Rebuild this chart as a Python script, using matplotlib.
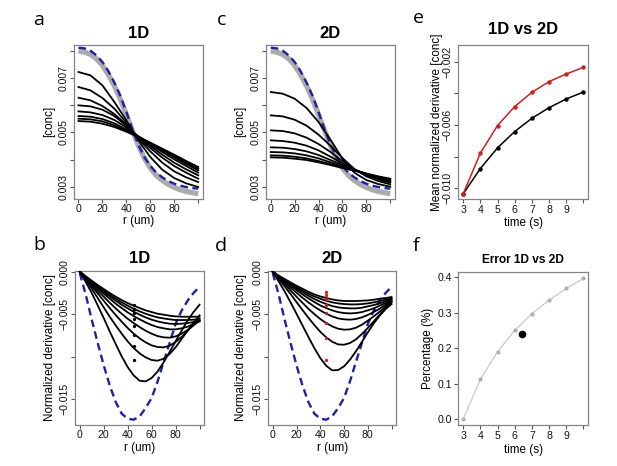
import matplotlib
matplotlib.use("Agg")
import matplotlib.pyplot as plt
import numpy as np

plt.rcParams['font.family'] = ['Liberation Sans', 'DejaVu Sans']

# ---------------- data ----------------
r_fine = [0, 5, 10, 15, 20, 25, 30, 35, 40, 45, 50, 55, 60, 65, 70, 75, 80, 85, 90, 95, 100]
r_coarse = [0, 10, 20, 30, 40, 50, 60, 70, 80, 90, 100]
times = [3, 4, 5, 6, 7, 8, 9, 10]

# concentration profiles (units of 1e-3)
conc_initial = [8.123, 8.098, 8.012, 7.840, 7.595, 7.251, 6.833, 6.342, 5.752, 5.113, 4.548,
                4.093, 3.762, 3.516, 3.344, 3.209, 3.110, 3.037, 2.988, 2.951, 2.926]
conc_reference = [8.000, 7.963, 7.877, 7.717, 7.472, 7.128, 6.710, 6.219, 5.654, 5.076, 4.523,
                  4.057, 3.688, 3.418, 3.233, 3.086, 2.975, 2.889, 2.828, 2.779, 2.742]

conc_1d_t3 = [7.226, 7.103, 6.735, 6.120, 5.445, 4.708, 4.093, 3.627, 3.319, 3.123, 2.988]
conc_1d_t4 = [6.673, 6.550, 6.268, 5.875, 5.359, 4.769, 4.302, 3.885, 3.565, 3.344, 3.172]
conc_1d_t5 = [6.280, 6.182, 5.973, 5.678, 5.285, 4.806, 4.425, 4.069, 3.762, 3.516, 3.295]
conc_1d_t6 = [5.998, 5.961, 5.838, 5.604, 5.248, 4.830, 4.499, 4.179, 3.885, 3.639, 3.418]
conc_1d_t7 = [5.776, 5.739, 5.641, 5.457, 5.187, 4.855, 4.560, 4.278, 4.007, 3.762, 3.516]
conc_1d_t8 = [5.604, 5.580, 5.494, 5.334, 5.113, 4.855, 4.597, 4.339, 4.081, 3.835, 3.602]
conc_1d_t9 = [5.506, 5.482, 5.408, 5.260, 5.064, 4.843, 4.609, 4.376, 4.130, 3.897, 3.664]
conc_1d_t10 = [5.420, 5.396, 5.322, 5.199, 5.027, 4.830, 4.622, 4.401, 4.179, 3.946, 3.725]

conc_2d_t3 = [6.489, 6.428, 6.243, 5.899, 5.383, 4.732, 4.032, 3.516, 3.246, 3.098, 3.000]
conc_2d_t4 = [5.629, 5.592, 5.469, 5.248, 4.916, 4.511, 4.057, 3.651, 3.381, 3.209, 3.086]
conc_2d_t5 = [5.076, 5.052, 4.966, 4.806, 4.573, 4.278, 3.946, 3.639, 3.430, 3.270, 3.147]
conc_2d_t6 = [4.708, 4.683, 4.622, 4.511, 4.339, 4.106, 3.860, 3.639, 3.455, 3.307, 3.184]
conc_2d_t7 = [4.450, 4.437, 4.388, 4.302, 4.167, 3.983, 3.798, 3.627, 3.467, 3.332, 3.221]
conc_2d_t8 = [4.278, 4.265, 4.228, 4.155, 4.044, 3.897, 3.749, 3.614, 3.479, 3.356, 3.246]
conc_2d_t9 = [4.155, 4.143, 4.106, 4.044, 3.946, 3.835, 3.713, 3.602, 3.479, 3.369, 3.270]
conc_2d_t10 = [4.081, 4.069, 4.032, 3.983, 3.897, 3.798, 3.688, 3.590, 3.479, 3.381, 3.295]

# normalized derivatives (units of 1e-3)
deriv_initial = [-0.16, -2.71, -5.65, -8.40, -11.03, -13.39, -15.35, -16.72, -17.31, -17.43, -17.04,
                 -16.06, -14.88, -12.92, -10.64, -8.40, -6.16, -4.59, -3.42, -2.51, -1.77]

deriv_1d_t3 = [0, -1.22, -2.51, -3.97, -5.46, -7.03, -8.52, -9.97, -11.23, -12.21, -12.84,
               -12.92, -12.52, -11.74, -10.68, -9.46, -8.21, -6.95, -5.77, -4.75, -3.89]
deriv_1d_t4 = [0, -0.98, -2.00, -3.10, -4.20, -5.30, -6.32, -7.30, -8.21, -8.99, -9.62,
               -10.09, -10.40, -10.48, -10.25, -9.70, -8.91, -7.93, -6.95, -6.01, -5.14]
deriv_1d_t5 = [0, -0.86, -1.69, -2.55, -3.42, -4.28, -5.10, -5.89, -6.63, -7.30, -7.85,
               -8.32, -8.68, -8.87, -8.91, -8.72, -8.28, -7.69, -6.99, -6.24, -5.54]
deriv_1d_t6 = [0, -0.79, -1.49, -2.24, -2.94, -3.65, -4.32, -4.95, -5.54, -6.05, -6.52,
               -6.95, -7.30, -7.58, -7.73, -7.77, -7.62, -7.30, -6.87, -6.32, -5.77]
deriv_1d_t7 = [0, -0.71, -1.33, -1.96, -2.59, -3.18, -3.77, -4.28, -4.79, -5.22, -5.61,
               -5.97, -6.28, -6.52, -6.67, -6.79, -6.79, -6.67, -6.48, -6.16, -5.85]
deriv_1d_t8 = [0, -0.63, -1.22, -1.81, -2.36, -2.91, -3.42, -3.89, -4.32, -4.71, -5.06,
               -5.38, -5.65, -5.85, -6.01, -6.12, -6.16, -6.12, -6.05, -5.93, -5.77]
deriv_1d_t9 = [0, -0.59, -1.14, -1.69, -2.20, -2.71, -3.18, -3.61, -4.00, -4.36, -4.67,
               -4.95, -5.18, -5.38, -5.50, -5.61, -5.69, -5.69, -5.69, -5.65, -5.61]
deriv_1d_t10 = [0, -0.55, -1.06, -1.57, -2.04, -2.51, -2.94, -3.34, -3.69, -4.00, -4.28,
                -4.55, -4.75, -4.95, -5.06, -5.18, -5.26, -5.30, -5.30, -5.30, -5.30]

deriv_2d_t3 = [0, -1.14, -2.32, -3.61, -4.95, -6.32, -7.69, -8.99, -10.17, -11.07, -11.62,
               -11.58, -11.15, -10.36, -9.38, -8.28, -7.15, -6.09, -5.18, -4.40, -3.81]
deriv_2d_t4 = [0, -0.86, -1.73, -2.63, -3.57, -4.51, -5.42, -6.28, -7.07, -7.73, -8.24,
               -8.56, -8.60, -8.40, -7.97, -7.34, -6.63, -5.85, -5.06, -4.28, -3.57]
deriv_2d_t5 = [0, -0.75, -1.45, -2.20, -2.94, -3.65, -4.36, -4.99, -5.57, -6.05, -6.44,
               -6.71, -6.83, -6.79, -6.60, -6.24, -5.77, -5.26, -4.71, -4.12, -3.57]
deriv_2d_t6 = [0, -0.67, -1.26, -1.88, -2.47, -3.06, -3.61, -4.12, -4.55, -4.95, -5.26,
               -5.50, -5.61, -5.65, -5.57, -5.38, -5.10, -4.75, -4.36, -3.89, -3.45]
deriv_2d_t7 = [0, -0.59, -1.10, -1.65, -2.16, -2.67, -3.14, -3.57, -3.97, -4.28, -4.55,
               -4.75, -4.87, -4.91, -4.87, -4.75, -4.55, -4.32, -4.00, -3.69, -3.34]
deriv_2d_t8 = [0, -0.55, -1.02, -1.49, -1.96, -2.39, -2.83, -3.22, -3.53, -3.81, -4.04,
               -4.20, -4.28, -4.32, -4.32, -4.24, -4.08, -3.93, -3.73, -3.49, -3.26]
deriv_2d_t9 = [0, -0.51, -0.94, -1.37, -1.81, -2.20, -2.59, -2.91, -3.18, -3.42, -3.61,
               -3.73, -3.81, -3.85, -3.85, -3.81, -3.73, -3.61, -3.45, -3.30, -3.14]
deriv_2d_t10 = [0, -0.47, -0.86, -1.26, -1.65, -2.00, -2.36, -2.67, -2.91, -3.10, -3.26,
                -3.38, -3.45, -3.45, -3.45, -3.42, -3.38, -3.30, -3.18, -3.10, -2.98]

# mean normalized derivative per time (units of 1e-3)
mean_deriv_1d = [-10.36, -8.76, -7.45, -6.42, -5.58, -4.91, -4.36, -3.92]
mean_deriv_2d = [-10.36, -7.79, -6.04, -4.84, -3.94, -3.26, -2.78, -2.36]
dot_r = 45

# error 1D vs 2D
error_pct = [0.0, 0.112, 0.190, 0.250, 0.297, 0.335, 0.368, 0.396]
error_mean_t = 6.45
error_mean_v = 0.241

conc_1d = [conc_1d_t3, conc_1d_t4, conc_1d_t5, conc_1d_t6, conc_1d_t7, conc_1d_t8, conc_1d_t9, conc_1d_t10]
conc_2d = [conc_2d_t3, conc_2d_t4, conc_2d_t5, conc_2d_t6, conc_2d_t7, conc_2d_t8, conc_2d_t9, conc_2d_t10]
deriv_1d = [deriv_1d_t3, deriv_1d_t4, deriv_1d_t5, deriv_1d_t6, deriv_1d_t7, deriv_1d_t8, deriv_1d_t9, deriv_1d_t10]
deriv_2d = [deriv_2d_t3, deriv_2d_t4, deriv_2d_t5, deriv_2d_t6, deriv_2d_t7, deriv_2d_t8, deriv_2d_t9, deriv_2d_t10]

# ---------------- style ----------------
W, H = 617, 466
BOX = '#858585'
BLUE = '#1f1fa8'
RED = '#d11f1f'
GRAYTHICK = '#ababab'
TICKFS = 7.6
LABFS = 8.4

fig = plt.figure(figsize=(W / 100, H / 100), dpi=100)


def rect(l, t, r, b):
    return [l / W, 1 - b / H, (r - l) / W, (b - t) / H]


def ftext(x, y, s, **kw):
    fig.text(x / W, 1 - y / H, s, **kw)


def style(ax, rotate_y=True):
    for sp in ax.spines.values():
        sp.set_color(BOX)
        sp.set_linewidth(0.9)
    ax.tick_params(direction='out', length=3.0, width=0.8, color='#555555',
                   labelsize=TICKFS, pad=1.0, labelcolor='#111111')
    if rotate_y:
        for lab in ax.get_yticklabels():
            lab.set_rotation(90)
            lab.set_va('center')


def scale(v):
    return np.asarray(v) * 1e-3


r_ticks = [0, 20, 40, 60, 80, 100]
r_labels = ['0', '20', '40', '60', '80', '']

# ---- concentration panels (a, c) ----
conc_ticks = [0.003, 0.004, 0.005, 0.006, 0.007, 0.008]
conc_labels = ['0.003', '', '0.005', '', '0.007', '']

for (l, r_), series, title, ylx in [((73.7, 203.0), conc_1d, '1D', 49.0),
                                    ((266.0, 395.0), conc_2d, '2D', 240.0)]:
    ax = fig.add_axes(rect(l, 44.7, r_, 198.7))
    ax.plot(r_fine, scale(conc_reference), color=GRAYTHICK, lw=3.8, solid_capstyle='butt', zorder=2)
    ax.plot(r_fine, scale(conc_initial), color=BLUE, lw=1.7, dashes=(3.2, 1.9), zorder=3)
    for s in series:
        ax.plot(r_coarse, scale(s), color='black', lw=1.3, zorder=4)
    ax.set_xlim(-4, 104)
    ax.set_ylim(0.002558, 0.008233)
    ax.set_xticks(r_ticks)
    ax.set_xticklabels(r_labels)
    ax.set_yticks(conc_ticks)
    ax.set_yticklabels(conc_labels)
    style(ax)
    ax.set_title(title, fontsize=12, fontweight='bold', pad=5.0)
    ftext(ylx, 121.7, '[conc]', rotation=90, ha='center', va='center', fontsize=LABFS)
    ftext((l + r_) / 2, 221.0, 'r (um)', ha='center', va='center', fontsize=LABFS)

# ---- derivative panels (b, d) ----
der_ticks = [-0.015, -0.010, -0.005, 0.0]
der_labels = ['\u22120.015', '', '\u22120.005', '0.000']

for (l, r_), series, title, dotc, means, ylx in [((75.0, 204.3), deriv_1d, '1D', 'black', mean_deriv_1d, 50.0),
                                                 ((268.0, 396.3), deriv_2d, '2D', RED, mean_deriv_2d, 241.0)]:
    ax = fig.add_axes(rect(l, 270.7, r_, 424.7))
    ax.plot(r_fine, scale(deriv_initial), color=BLUE, lw=1.7, dashes=(3.2, 1.9), zorder=3)
    for s in series:
        ax.plot(r_fine, scale(s), color='black', lw=1.3, zorder=4)
    ax.plot([dot_r] * len(means), scale(means), 'o', color=dotc, ms=2.4, mew=0, zorder=5)
    ax.set_xlim(-4, 104)
    ax.set_ylim(-0.01802, 0.00012)
    ax.set_xticks(r_ticks)
    ax.set_xticklabels(r_labels)
    ax.set_yticks(der_ticks)
    ax.set_yticklabels(der_labels)
    style(ax)
    ax.set_title(title, fontsize=12, fontweight='bold', pad=5.5)
    ftext(ylx, 347.7, 'Normalized derivative [conc]', rotation=90, ha='center', va='center', fontsize=LABFS)
    ftext((l + r_) / 2, 447.5, 'r (um)', ha='center', va='center', fontsize=LABFS)

# ---- panel e ----
t_labels = ['3', '4', '5', '6', '7', '8', '9', '']
ax = fig.add_axes(rect(458.3, 45.0, 588.3, 199.3))
ax.plot(times, scale(mean_deriv_1d), '-o', color='black', lw=1.1, ms=3.2, mew=0)
ax.plot(times, scale(mean_deriv_2d), '-o', color=RED, lw=1.1, ms=3.2, mew=0)
ax.set_xlim(2.72, 10.28)
ax.set_ylim(-0.0107, -0.00095)
ax.set_xticks(times)
ax.set_xticklabels(t_labels)
ax.set_yticks([-0.010, -0.008, -0.006, -0.004, -0.002])
ax.set_yticklabels(['\u22120.010', '', '\u22120.006', '', '\u22120.002'])
style(ax)
ax.set_title('1D vs 2D', fontsize=12, fontweight='bold', pad=8.2)
ftext(436.7, 122.0, 'Mean normalized derivative [conc]', rotation=90, ha='center', va='center', fontsize=LABFS)
ftext(523.3, 223.0, 'time (s)', ha='center', va='center', fontsize=LABFS)

# ---- panel f ----
ax = fig.add_axes(rect(458.3, 271.7, 588.3, 425.0))
ax.plot(times, error_pct, '-o', color='#c8c8c8', lw=0.9, ms=3.0, mew=0, mfc='#b0b0b0')
ax.plot([error_mean_t], [error_mean_v], 'o', color='black', ms=5.5, mew=0)
ax.set_xlim(2.72, 10.28)
ax.set_ylim(-0.016, 0.415)
ax.set_xticks(times)
ax.set_xticklabels(t_labels)
ax.set_yticks([0.0, 0.1, 0.2, 0.3, 0.4])
ax.set_yticklabels(['0.0', '0.1', '0.2', '0.3', '0.4'])
style(ax, rotate_y=False)
ax.tick_params(axis='y', pad=1.5)
ax.set_title('Error 1D vs 2D', fontsize=8.6, fontweight='bold', pad=6.5)
ftext(428.5, 348.3, 'Percentage (%)', rotation=90, ha='center', va='center', fontsize=LABFS)
ftext(523.3, 449.5, 'time (s)', ha='center', va='center', fontsize=LABFS)

# ---- panel letters ----
for x, y, s in [(33.3, 25.0, 'a'), (216.7, 25.0, 'c'), (412.7, 22.7, 'e'),
                (33.3, 250.0, 'b'), (215.0, 250.7, 'd'), (412.7, 250.7, 'f')]:
    ftext(x, y, s, ha='left', va='baseline', fontsize=14, family=['Open Sans', 'DejaVu Sans'])

fig.savefig('out.png', dpi=100)
